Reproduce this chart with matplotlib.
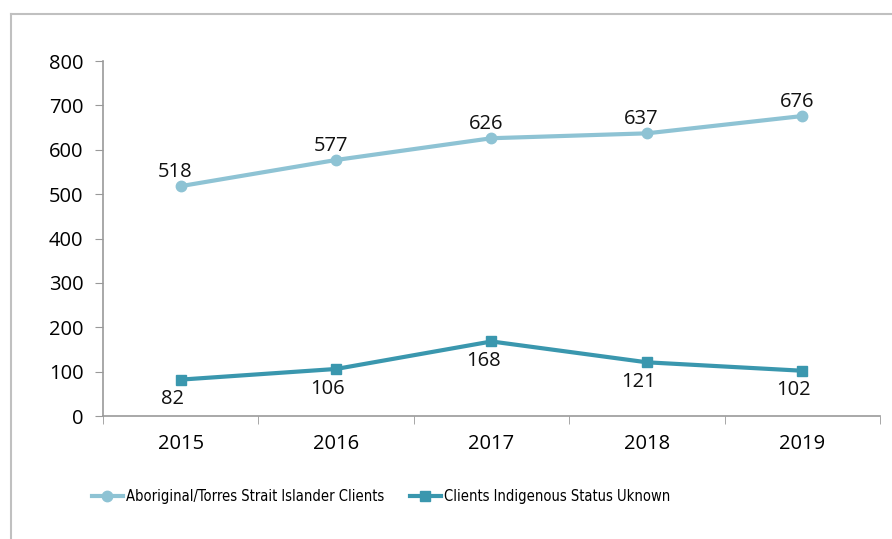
import matplotlib
matplotlib.use('Agg')
from matplotlib import pyplot as plt
from matplotlib import font_manager
from matplotlib.lines import Line2D

years = ['2015', '2016', '2017', '2018', '2019']
aboriginal = [518, 577, 626, 637, 676]
unknown = [82, 106, 168, 121, 102]

light = '#8EC3D4'
dark = '#3A97AE'
plt.rcParams['font.family'] = ['Open Sans', 'DejaVu Sans']

fig = plt.figure(figsize=(8.92, 5.39), dpi=100)
ax = fig.add_axes([0.1155, 0.2282, 0.871, 0.6586])

x = list(range(len(years)))
ax.plot(x, aboriginal, color=light, lw=3, marker='o', ms=7.5,
        label='Aboriginal/Torres Strait Islander Clients')
ax.plot(x, unknown, color=dark, lw=3, marker='s', ms=7,
        label='Clients Indigenous Status Uknown')

for i, v in enumerate(aboriginal):
    ax.annotate(str(v), (i, v), xytext=(-4, 3), textcoords='offset points',
                ha='center', va='bottom', fontsize=14.5, color='#111111')
for i, v in enumerate(unknown):
    ax.annotate(str(v), (i, v), xytext=(-6, -7), textcoords='offset points',
                ha='center', va='top', fontsize=14.5, color='#111111')

ax.set_xlim(-0.5, len(years) - 0.5)
ax.set_ylim(0, 800)
ax.set_yticks(range(0, 801, 100))
ax.set_xticks(x)
ax.set_xticklabels(years)
ax.set_xticks([i - 0.5 for i in range(len(years) + 1)], minor=True)
ax.tick_params(axis='x', which='major', length=0, pad=13, labelsize=14.5)
ax.tick_params(axis='x', which='minor', length=6, color='#999999', direction='out')
ax.tick_params(axis='y', length=6, color='#999999', direction='out', pad=8, labelsize=14.5)
for s in ['top', 'right']:
    ax.spines[s].set_visible(False)
for s in ['left', 'bottom']:
    ax.spines[s].set_color('#999999')
    ax.spines[s].set_linewidth(1.2)

# narrow upright font for the legend if a condensed face exists
cond = [f for f in font_manager.fontManager.ttflist
        if f.name == 'DejaVu Sans' and f.stretch == 'condensed'
        and f.style == 'normal' and f.weight in (400, 'normal')]
if cond:
    leg_prop = font_manager.FontProperties(fname=cond[0].fname, size=10.5)
else:
    leg_prop = font_manager.FontProperties(family=['Lato', 'Open Sans'], size=10.5)

fig.legend(loc='center left', bbox_to_anchor=(92 / 892, 1 - 497 / 539), ncol=2,
           frameon=False, borderpad=0, borderaxespad=0, prop=leg_prop,
           handlelength=2.1, handletextpad=0.2, columnspacing=1.8)

# outer chart frame (partly cropped)
fig.add_artist(Line2D([11 / 892, 1], [1 - 14 / 539, 1 - 14 / 539],
                      transform=fig.transFigure, color='#C0C0C0', lw=1.5))
fig.add_artist(Line2D([11 / 892, 11 / 892], [0, 1 - 14 / 539],
                      transform=fig.transFigure, color='#C0C0C0', lw=1.5))

fig.savefig('out.png', dpi=100)
